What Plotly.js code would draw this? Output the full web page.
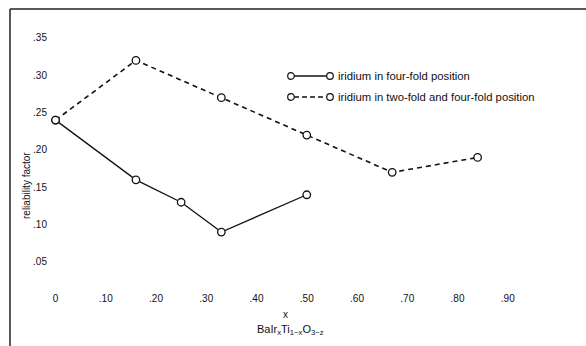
<!DOCTYPE html>
<html><head><meta charset="utf-8">
<script src="https://cdn.plot.ly/plotly-3.0.1.min.js"></script>
<style>html,body{margin:0;padding:0;background:#fff}#chart{width:586px;height:346px}</style>
</head><body><div id="chart"></div>
<script>
// Data
const fourFoldX = [0, 0.16, 0.25, 0.33, 0.50];
const fourFoldY = [0.24, 0.16, 0.13, 0.09, 0.14];
const twoFourFoldX = [0, 0.16, 0.33, 0.50, 0.67, 0.84];
const twoFourFoldY = [0.24, 0.32, 0.27, 0.22, 0.17, 0.19];
const seriesNames = ["iridium in four-fold position", "iridium in two-fold and four-fold position"];
const xTickVals = [0, 0.1, 0.2, 0.3, 0.4, 0.5, 0.6, 0.7, 0.8, 0.9];
const xTickText = ["0", ".10", ".20", ".30", ".40", ".50", ".60", ".70", ".80", ".90"];
const yTickVals = [0.05, 0.10, 0.15, 0.20, 0.25, 0.30, 0.35];
const yTickText = [".05", ".10", ".15", ".20", ".25", ".30", ".35"];
const xTitle = "x";
const yTitle = "reliability factor";
const formula = "BaIr<sub>x</sub>Ti<sub>1−x</sub>O<sub>3−z</sub>";

const FONT = "Liberation Sans, Arial, sans-serif";
const INK = "#111";
const marker = {symbol: "circle", size: 7.5, color: "#fff", line: {width: 1.3, color: INK}};

const traces = [
  {x: fourFoldX, y: fourFoldY, mode: "lines+markers", name: seriesNames[0],
   line: {color: INK, width: 1.3}, marker: marker, showlegend: false},
  {x: twoFourFoldX, y: twoFourFoldY, mode: "lines+markers", name: seriesNames[1],
   line: {color: INK, width: 1.6, dash: "5px,4px"}, marker: marker, showlegend: false}
];

// paper coordinate helpers (plot area: x 48..558, y 15..291)
const L = 48, R = 28, T = 15, B = 55, W = 586, H = 346;
const pw = W - L - R, ph = H - T - B;
const px = p => (p - L) / pw;
const py = p => (H - B - p) / ph;

const legendRows = [76, 97];
const shapes = [
  {type: "line", xref: "paper", yref: "paper", x0: px(10), x1: px(586), y0: py(9), y1: py(9), line: {color: "#222", width: 1.5}},
  {type: "line", xref: "paper", yref: "paper", x0: px(10), x1: px(10), y0: py(9), y1: py(346), line: {color: "#222", width: 1.5}},
  // legend samples
  {type: "line", xref: "paper", yref: "paper", x0: px(294), x1: px(327), y0: py(legendRows[0]), y1: py(legendRows[0]), line: {color: INK, width: 1.3}},
  {type: "line", xref: "paper", yref: "paper", x0: px(294), x1: px(327), y0: py(legendRows[1]), y1: py(legendRows[1]), line: {color: INK, width: 1.6, dash: "5px,3px"}}
];
legendRows.forEach(yy => {
  [291, 330].forEach(xx => {
    shapes.push({type: "circle", xref: "paper", yref: "paper",
      x0: px(xx - 3.3), x1: px(xx + 3.3), y0: py(yy + 3.3), y1: py(yy - 3.3),
      line: {color: INK, width: 1.2}, fillcolor: "#fff"});
  });
});

const annotations = [
  {xref: "paper", yref: "paper", x: px(336), y: py(legendRows[0]), xanchor: "left", yanchor: "middle",
   text: seriesNames[0], showarrow: false, font: {family: FONT, size: 11.3, color: INK}},
  {xref: "paper", yref: "paper", x: px(336), y: py(legendRows[1]), xanchor: "left", yanchor: "middle",
   text: seriesNames[1], showarrow: false, font: {family: FONT, size: 11.3, color: INK}},
  {xref: "paper", yref: "paper", x: px(26), y: py(186), xanchor: "center", yanchor: "middle",
   text: yTitle, textangle: -90, showarrow: false, font: {family: FONT, size: 10, color: INK}},
  {xref: "paper", yref: "paper", x: px(285), y: py(314), xanchor: "center", yanchor: "middle",
   text: xTitle, showarrow: false, font: {family: FONT, size: 10, color: INK}},
  {xref: "paper", yref: "paper", x: px(290), y: py(330), xanchor: "center", yanchor: "middle",
   text: formula, showarrow: false, font: {family: FONT, size: 11, color: INK}}
];

const layout = {
  width: W, height: H,
  margin: {l: L, r: R, t: T, b: B, pad: 0},
  paper_bgcolor: "#fff", plot_bgcolor: "#fff",
  showlegend: false,
  xaxis: {range: [-0.015, 1.0], tickvals: xTickVals, ticktext: xTickText,
          showgrid: false, zeroline: false, showline: false, ticks: "",
          tickfont: {family: FONT, size: 10, color: INK}},
  yaxis: {range: [0.0111, 0.3808], tickvals: yTickVals, ticktext: yTickText,
          showgrid: false, zeroline: false, showline: false, ticks: "",
          tickfont: {family: FONT, size: 10, color: INK}},
  shapes: shapes,
  annotations: annotations
};

Plotly.newPlot("chart", traces, layout, {staticPlot: true, displayModeBar: false});
</script></body></html>
